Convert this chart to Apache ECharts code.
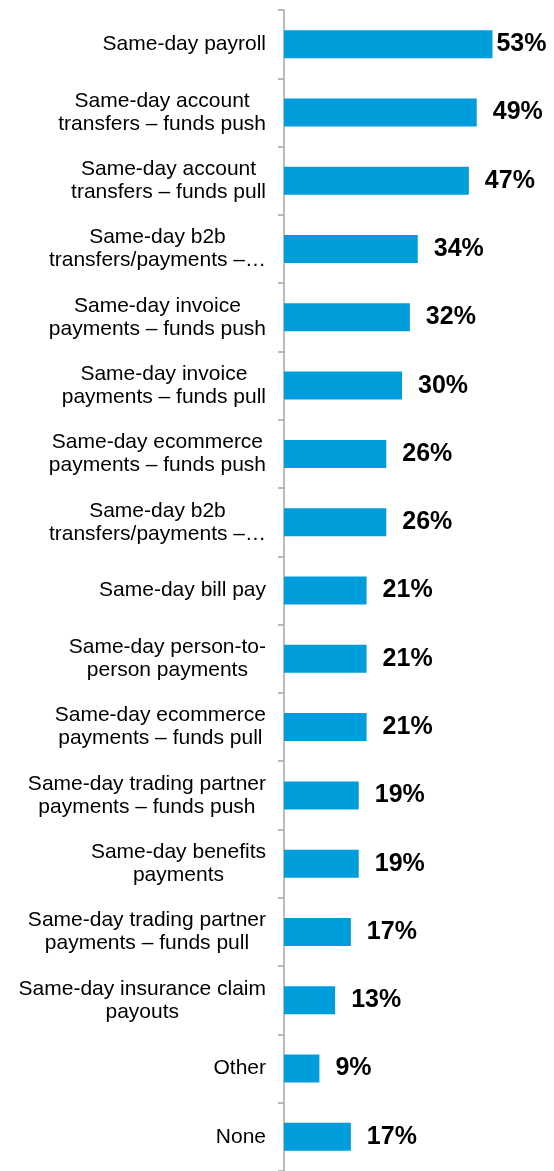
<!DOCTYPE html>
<html>
<head>
<meta charset="utf-8">
<script src="https://cdn.jsdelivr.net/npm/echarts@6/dist/echarts.min.js"></script>
<style>
  html, body { margin: 0; padding: 0; background: #fff; }
  #chart { width: 554px; height: 1171px; }
</style>
</head>
<body>
<div id="chart"></div>
<script>
// Payment types, top to bottom
const categories = [
  'Same-day payroll',
  'Same-day account\ntransfers – funds push',
  'Same-day account\ntransfers – funds pull',
  'Same-day b2b\ntransfers/payments –…',
  'Same-day invoice\npayments – funds push',
  'Same-day invoice\npayments – funds pull',
  'Same-day ecommerce\npayments – funds push',
  'Same-day b2b\ntransfers/payments –…',
  'Same-day bill pay',
  'Same-day person-to-\nperson payments',
  'Same-day ecommerce\npayments – funds pull',
  'Same-day trading partner\npayments – funds push',
  'Same-day benefits\npayments',
  'Same-day trading partner\npayments – funds pull',
  'Same-day insurance claim\npayouts',
  'Other',
  'None'
];
// Share of respondents (%)
const values = [53, 49, 47, 34, 32, 30, 26, 26, 21, 21, 21, 19, 19, 17, 13, 9, 17];

const FONT = '"Liberation Sans", Arial, sans-serif';
const BAR = '#009ddc';

// the top bar's label sits closer so it stays inside the canvas
const seriesData = values.map((v, i) =>
  i === 0 ? { value: v, label: { distance: 4 } } : v
);

const chart = echarts.init(document.getElementById('chart'), null, { renderer: 'canvas' });
chart.setOption({
  animation: false,
  backgroundColor: '#fff',
  grid: { left: 284, top: 10, width: 236, height: 1166, containLabel: false },
  xAxis: {
    type: 'value', min: 0, max: 60,
    show: false
  },
  yAxis: {
    type: 'category',
    inverse: true,
    data: categories,
    axisLine: { show: true, lineStyle: { color: '#a6a6a6', width: 1.5 } },
    axisTick: { show: true, length: 6, lineStyle: { color: '#a6a6a6', width: 1.5 } },
    axisLabel: {
      margin: 18,
      align: 'right',
      color: '#000',
      fontFamily: FONT,
      fontSize: 21,
      lineHeight: 23,
      formatter: (s) => s.split('\n').map(l => '{c|' + l + '}').join('\n'),
      rich: {
        c: { align: 'center', fontFamily: FONT, fontSize: 21, lineHeight: 23, color: '#000' }
      }
    },
    splitLine: { show: false }
  },
  series: [{
    type: 'bar',
    data: seriesData,
    barWidth: 28,
    itemStyle: { color: BAR },
    label: {
      show: true,
      position: 'right',
      distance: 16,
      formatter: '{c}%',
      color: '#000',
      fontFamily: FONT,
      fontWeight: 'bold',
      fontSize: 25
    }
  }]
});
</script>
</body>
</html>
